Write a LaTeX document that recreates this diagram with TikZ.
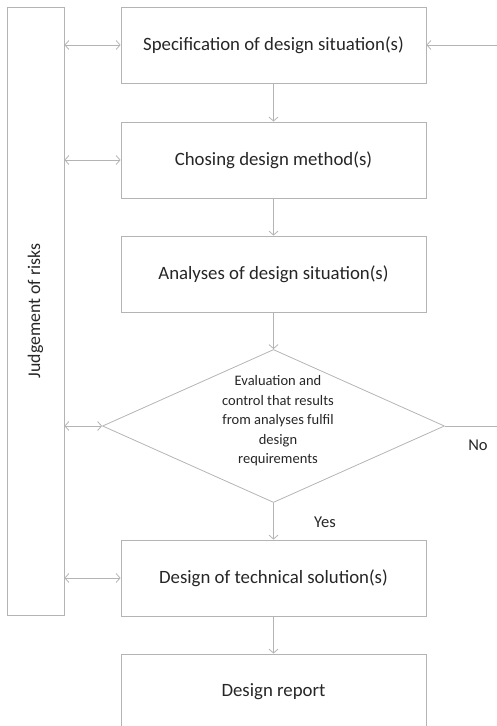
\documentclass[tikz,border=0pt]{standalone}
\usepackage{fontspec}
\setmainfont{Carlito}
\usetikzlibrary{arrows.meta,shapes.geometric}

\definecolor{linegray}{RGB}{180,180,180}
\definecolor{textgray}{RGB}{38,38,38}

\begin{document}
\begin{tikzpicture}[x=1pt, y=-1pt,
        stepbox/.style={draw=linegray, line width=0.8pt, minimum width=305pt, minimum height=76pt, inner sep=0pt, text=textgray, font=\fontsize{18.8}{22}\selectfont},
        flow/.style={draw=linegray, line width=0.8pt, -{Straight Barb[length=4pt, width=9pt]}},
        both/.style={flow, {Straight Barb[length=4pt, width=9pt]}-{Straight Barb[length=4pt, width=9pt]}},
        lbl/.style={text=textgray, font=\fontsize{16.5}{19}\selectfont}]
        % Define Variables
        \def\cx{273.5}
        \def\W{497}
        \def\H{726}

        \clip (0,0) rectangle (\W,\H);

        % Side Box
        \node[draw=linegray, line width=0.8pt, minimum width=57pt, minimum height=608pt, inner sep=0pt] (risks) at (35.5,311) {};
        \node[lbl, rotate=90, font=\fontsize{17.8}{20}\selectfont] (risklbl) at (risks.center) {Judgement of risks};

        % Main Steps
        \node[stepbox] (spec) at (\cx,45) {Specification of design situation(s)};
        \node[stepbox] (method) at (\cx,160) {Chosing design method(s)};
        \node[stepbox] (analyses) at (\cx,274) {Analyses of design situation(s)};
        \node[draw=linegray, line width=0.8pt, diamond, minimum width=342pt, minimum height=153pt, inner sep=0pt] (eval) at (\cx,426) {};
        \node[text=textgray, align=center, font=\fontsize{14.5}{19.5}\selectfont] (evaltext) at (278,421) {Evaluation and\\control that results\\from analyses fulfil\\design\\requirements};
        \node[stepbox] (design) at (\cx,578) {Design of technical solution(s)};
        \node[stepbox] (report) at (\cx,692) {Design report};

        % Flow
        \coordinate (input) at (\W,45);
        \coordinate (noend) at (\W,426);
        \draw[flow] (input) -- (spec.east);
        \draw[flow] (spec) -- (method);
        \draw[flow] (method) -- (analyses);
        \draw[flow] (analyses) -- (eval.north);
        \draw[flow] (eval.south) -- (design);
        \draw[flow] (design) -- (report);
        \draw[draw=linegray, line width=0.8pt] (eval.east) -- (noend);
        \node[lbl] (yes) at (325,522) {Yes};
        \node[lbl] (no) at (478,445) {No};

        % Risk Links
        \draw[both] (risks.east |- spec.west) -- (spec.west);
        \draw[both] (risks.east |- method.west) -- (method.west);
        \draw[both] (risks.east |- eval.west) -- (eval.west);
        \draw[both] (risks.east |- design.west) -- (design.west);

    \end{tikzpicture}
\end{document}
